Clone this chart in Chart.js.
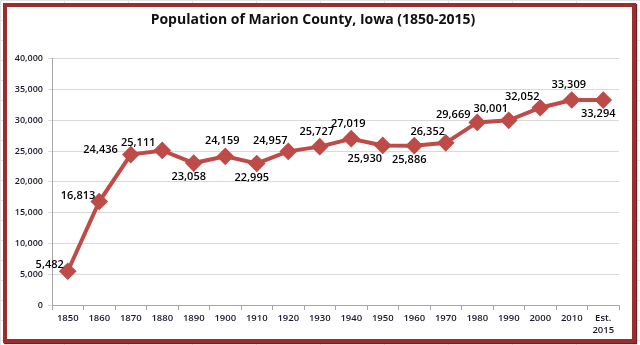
<!DOCTYPE html>
<html>
<head>
<meta charset="utf-8">
<script src="https://cdn.jsdelivr.net/npm/chart.js@4"></script>
<style>
  html, body { margin: 0; padding: 0; }
  body {
    width: 640px; height: 345px; overflow: hidden;
    background-color: #fff;
    background-image:
      linear-gradient(to right, #e3e3e3 1px, transparent 1px),
      linear-gradient(to bottom, #e3e3e3 1px, transparent 1px);
    background-size: 64px 20px;
  }
  #frame {
    position: absolute; left: 3px; top: 3px;
    width: 625px; height: 332px;
    border: 4px solid #9b2d2d;
    box-shadow: 1px 1px 1px #6e1f1f;
    background: #fff;
  }
  #chart { display: block; }
</style>
</head>
<body>
<div id="frame"><canvas id="chart" width="625" height="332"></canvas></div>
<script>
// census years and population
const years = ["1850", "1860", "1870", "1880", "1890", "1900", "1910", "1920", "1930",
  "1940", "1950", "1960", "1970", "1980", "1990", "2000", "2010", ["Est.", "2015"]];
const population = [5482, 16813, 24436, 25111, 23058, 24159, 22995, 24957, 25727,
  27019, 25930, 25886, 26352, 29669, 30001, 32052, 33309, 33294];

// where each value label sits next to its point
const labelSide = ["left", "left", "farLeft", "leftUp", "bottom", "top", "bottom", "topLeft", "top",
  "top", "bottomLeft", "bottom", "topLeft", "leftUp", "topLeft", "topLeft", "top", "bottom"];

const red = "#be4b48";
const fmt = v => v.toLocaleString("en-US");

// draws the number next to each point, like excel data labels
const valueLabels = {
  id: "valueLabels",
  afterDatasetsDraw(chart) {
    const ctx = chart.ctx;
    const pts = chart.getDatasetMeta(0).data;
    ctx.save();
    ctx.font = "600 11px 'Open Sans'";
    ctx.fillStyle = "#000";
    ctx.textBaseline = "middle";
    pts.forEach((p, i) => {
      const txt = fmt(population[i]);
      let x = p.x, y = p.y;
      ctx.textAlign = "center";
      switch (labelSide[i]) {
        case "left": ctx.textAlign = "right"; x -= 4; y -= 6; break;
        case "farLeft": ctx.textAlign = "right"; x -= 13; y -= 5; break;
        case "leftUp": x -= 24; y -= 8; break;
        case "top": x -= 3; y -= 15; break;
        case "topLeft": x -= 18; y -= 11; break;
        case "bottom": x -= 5; y += 14; break;
        case "bottomLeft": x -= 18; y += 13; break;
      }
      ctx.fillText(txt, x, y);
    });
    ctx.restore();
  }
};

new Chart(document.getElementById("chart"), {
  type: "line",
  data: {
    labels: years,
    datasets: [{
      data: population,
      borderColor: red,
      backgroundColor: red,
      borderWidth: 4,
      pointStyle: "rectRot",
      pointRadius: 6,
      pointHoverRadius: 6,
      pointBackgroundColor: red,
      pointBorderColor: red,
      tension: 0
    }]
  },
  options: {
    responsive: false,
    animation: false,
    layout: { padding: { left: 0, right: 13, top: 0, bottom: 0 } },
    plugins: {
      legend: { display: false },
      tooltip: { enabled: false },
      title: {
        display: true,
        text: "Population of Marion County, Iowa (1850-2015)",
        color: "#111",
        font: { family: "'Open Sans'", size: 14, weight: "bold" },
        padding: { top: 5, bottom: 30 }
      }
    },
    scales: {
      x: {
        offset: true,
        grid: { offset: true, drawOnChartArea: false, color: "#a6a6a6", tickLength: 5 },
        border: { color: "#a6a6a6" },
        ticks: {
          color: "#1a1a2e", padding: 3, maxRotation: 0, autoSkip: false,
          font: { family: "'Open Sans'", size: 9.5, weight: "600" }
        },
        afterFit(s) { s.height = 34; }
      },
      y: {
        min: 0, max: 40000,
        grid: { color: "#d9d9d9", lineWidth: 1, tickLength: 4 },
        border: { color: "#a6a6a6" },
        ticks: {
          stepSize: 5000, color: "#1a1a2e", padding: 5,
          font: { family: "'Open Sans'", size: 9, weight: "600" },
          callback: v => fmt(v)
        },
        afterFit(s) { s.width = 45; }
      }
    }
  },
  plugins: [valueLabels]
});
</script>
</body>
</html>
